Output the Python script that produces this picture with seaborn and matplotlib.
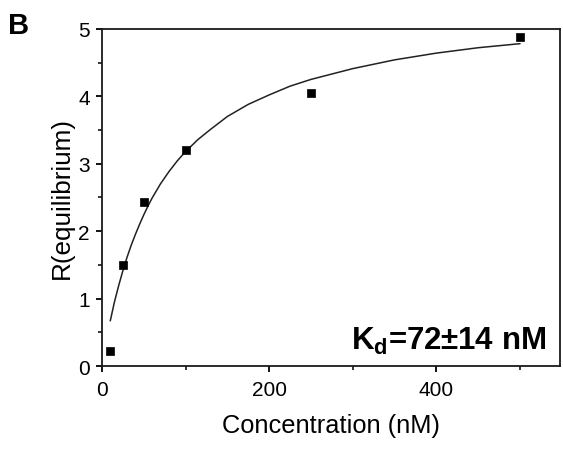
import numpy as np
import pandas as pd
import seaborn as sns
import matplotlib
matplotlib.use("Agg")
import matplotlib.pyplot as plt
from matplotlib.ticker import MultipleLocator

# measured equilibrium responses
conc = [10, 25, 50, 100, 250, 500]
r_eq = [0.22, 1.5, 2.43, 3.2, 4.05, 4.88]

# fitted binding curve
fit_conc = [10, 15, 20, 25, 30, 35, 40, 45, 50, 55, 60, 70, 80, 90, 100, 115, 130,
            150, 175, 200, 225, 250, 300, 350, 400, 450, 500]
fit_r = [0.67, 0.95, 1.19, 1.41, 1.61, 1.79, 1.95, 2.10, 2.24, 2.37, 2.49, 2.70,
         2.88, 3.04, 3.18, 3.36, 3.51, 3.70, 3.88, 4.02, 4.15, 4.25, 4.41, 4.54,
         4.64, 4.72, 4.78]

kd_label = r"K$_\mathbf{d}$=72±14 nM"

sns.set_style("ticks")
plt.rcParams['font.family'] = ['Liberation Sans', 'DejaVu Sans']
plt.rcParams['mathtext.fontset'] = 'custom'
plt.rcParams['mathtext.rm'] = 'Liberation Sans'
plt.rcParams['mathtext.bf'] = 'Liberation Sans:bold'
plt.rcParams['text.color'] = 'black'
plt.rcParams['axes.labelcolor'] = 'black'
plt.rcParams['xtick.color'] = 'black'
plt.rcParams['ytick.color'] = 'black'

pts = pd.DataFrame({"conc": conc, "r": r_eq})
fit = pd.DataFrame({"conc": fit_conc, "r": fit_r})

fig = plt.figure(figsize=(5.63, 4.52), dpi=100)
ax = fig.add_axes([0.181, 0.188, 0.814, 0.746])

sns.lineplot(data=fit, x="conc", y="r", ax=ax, color="#222222", linewidth=1.1)
sns.scatterplot(data=pts, x="conc", y="r", ax=ax, marker="s", color="black",
                s=30, edgecolor="black", linewidth=0.5, zorder=3)

ax.set_xlim(0, 548)
ax.set_ylim(0, 5)
ax.xaxis.set_major_locator(MultipleLocator(200))
ax.xaxis.set_minor_locator(MultipleLocator(100))
ax.yaxis.set_major_locator(MultipleLocator(1))
ax.yaxis.set_minor_locator(MultipleLocator(0.5))
ax.tick_params(which="major", direction="out", length=4.3, width=1.3, labelsize=15)
ax.tick_params(axis="x", which="major", pad=5.5)
ax.tick_params(axis="y", which="major", pad=4.5)
ax.tick_params(which="minor", direction="out", length=2.8, width=1.1)
for sp in ax.spines.values():
    sp.set_linewidth(1.3)
    sp.set_color("#1a1a1a")

ax.set_xlabel("Concentration (nM)", fontsize=18.3, labelpad=10)
ax.set_ylabel("R(equilibrium)", fontsize=18.8, labelpad=3)

ax.text(0.97, 0.052, kd_label, transform=ax.transAxes, ha="right", va="baseline",
        fontsize=22.5, fontweight="bold")
fig.text(0.014, 0.925, "B", fontsize=21, fontweight="bold", ha="left", va="baseline")

fig.savefig("out.png", dpi=100)
